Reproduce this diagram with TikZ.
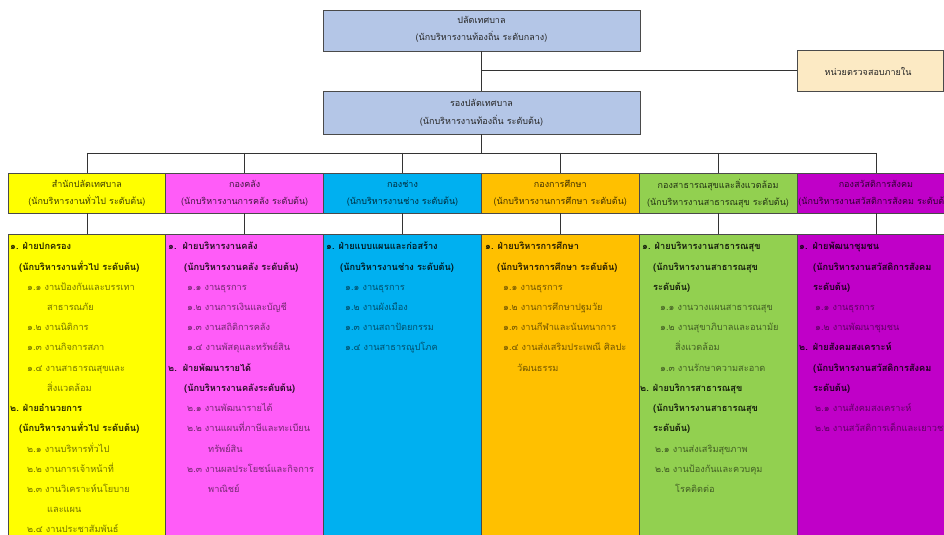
\documentclass[tikz,border=0pt]{standalone}
\usepackage{fontspec}
\newfontfamily\thai[Script=Thai]{Loma}
\definecolor{topbg}{HTML}{B4C6E7}
\definecolor{irbg}{HTML}{FCEAC4}
\definecolor{cyel}{HTML}{FFFF00}
\definecolor{cmag}{HTML}{FF5CF8}
\definecolor{ccya}{HTML}{00B0F0}
\definecolor{cora}{HTML}{FFC000}
\definecolor{cgrn}{HTML}{92D050}
\definecolor{cpur}{HTML}{C000C8}
\definecolor{edge}{HTML}{4A4A4A}
\newcount\tlc
\newcommand\tl[4]{\global\advance\tlc by 1 \node[#1] (t\the\tlc) at ({#2},{250+20.2*#3}) {#4};}
\tikzset{
  box/.style={draw=edge, line width=0.8bp, inner sep=0pt},
  conn/.style={draw=black!80, line width=0.8bp},
  txt/.style={font=\thai\fontsize{9bp}{17.5bp}\selectfont, align=center},
  ln/.style={anchor=base west, inner sep=0pt, font=\thai\fontsize{9.2bp}{10bp}\selectfont},
  hd/.style={ln, text=hc, font=\thai\bfseries\fontsize{9.2bp}{10bp}\selectfont},
  it/.style={ln, text=ic},
}
\begin{document}
\begin{tikzpicture}[x=1bp,y=-1bp]
\useasboundingbox (0,0) rectangle (944,535);
\clip (0,0) rectangle (944,535);
\fill[white] (0,0) rectangle (944,535);
% top boxes
\node[box, fill=topbg, minimum width=317bp, minimum height=41bp] (pt) at (481.5,30.5) {};
\node[txt, text=black!85] (ptt) at (481.5,29.5) {ปลัดเทศบาล\\(นักบริหารงานท้องถิ่น ระดับกลาง)};
\node[box, fill=irbg, minimum width=146bp, minimum height=41bp] (irb) at (870,70.5) {};
\node[txt, text=black!85] (irbt) at (868,71) {หน่วยตรวจสอบภายใน};
\node[box, fill=topbg, minimum width=317bp, minimum height=43bp] (prd) at (481.5,112.5) {};
\node[txt, text=black!85] (prdt) at (481.5,113) {รองปลัดเทศบาล\\(นักบริหารงานท้องถิ่น ระดับต้น)};
% connectors top
\draw[conn] (pt.south) -- (prd.north);
\coordinate (j1) at (pt.south |- irb.west);
\draw[conn] (j1) -- (irb.west);
\coordinate (bus) at (481.5,153);
\draw[conn] (prd.south) -- (bus);
% headers and bodies
\foreach \c/\t/\s [count=\n] in {
  cyel/สำนักปลัดเทศบาล/(นักบริหารงานทั่วไป ระดับต้น),
  cmag/กองคลัง/(นักบริหารงานการคลัง ระดับต้น),
  ccya/กองช่าง/(นักบริหารงานช่าง ระดับต้น),
  cora/กองการศึกษา/(นักบริหารงานการศึกษา ระดับต้น),
  cgrn/กองสาธารณสุขและสิ่งแวดล้อม/(นักบริหารงานสาธารณสุข ระดับต้น),
  cpur/กองสวัสดิการสังคม/(นักบริหารงานสวัสดิการสังคม ระดับต้น)} {
  \pgfmathsetmacro\cx{8+157.8*(\n-1)+78.9}
  \node[box, fill=\c, minimum width=157.8bp, minimum height=40bp] (h\n) at (\cx,193) {};
  \node[txt, text=black!75!\c] (ht\n) at (\cx,193.5) {\t\\\s};
  \node[box, fill=\c, minimum width=157.8bp, minimum height=366bp] (b\n) at (\cx,417) {};
  \draw[conn] (h\n.south) -- (b\n.north);
}
\draw[conn] (h1.north |- bus) -- (h6.north |- bus);
\foreach \n in {1,...,6} { \draw[conn] (h\n.north |- bus) -- (h\n.north); }
% column 1
\begin{scope}
\colorlet{hc}{black!85!cyel}\colorlet{ic}{black!55!cyel}
\tl{hd}{10}{0}{๑. ฝ่ายปกครอง}
\tl{hd}{19}{1}{(นักบริหารงานทั่วไป ระดับต้น)}
\tl{it}{27}{2}{๑.๑ งานป้องกันและบรรเทา}
\tl{it}{47}{3}{สาธารณภัย}
\tl{it}{27}{4}{๑.๒ งานนิติการ}
\tl{it}{27}{5}{๑.๓ งานกิจการสภา}
\tl{it}{27}{6}{๑.๔ งานสาธารณสุขและ}
\tl{it}{47}{7}{สิ่งแวดล้อม}
\tl{hd}{10}{8}{๒. ฝ่ายอำนวยการ}
\tl{hd}{19}{9}{(นักบริหารงานทั่วไป ระดับต้น)}
\tl{it}{27}{10}{๒.๑ งานบริหารทั่วไป}
\tl{it}{27}{11}{๒.๒ งานการเจ้าหน้าที่}
\tl{it}{27}{12}{๒.๓ งานวิเคราะห์นโยบาย}
\tl{it}{47}{13}{และแผน}
\tl{it}{27}{14}{๒.๔ งานประชาสัมพันธ์}
\end{scope}
% column 2
\begin{scope}
\colorlet{hc}{black!85!cmag}\colorlet{ic}{black!55!cmag}
\tl{hd}{168}{0}{๑.\hspace{6bp}ฝ่ายบริหารงานคลัง}
\tl{hd}{184}{1}{(นักบริหารงานคลัง ระดับต้น)}
\tl{it}{187}{2}{๑.๑ งานธุรการ}
\tl{it}{187}{3}{๑.๒ งานการเงินและบัญชี}
\tl{it}{187}{4}{๑.๓ งานสถิติการคลัง}
\tl{it}{187}{5}{๑.๔ งานพัสดุและทรัพย์สิน}
\tl{hd}{168}{6}{๒.\hspace{6bp}ฝ่ายพัฒนารายได้}
\tl{hd}{184}{7}{(นักบริหารงานคลังระดับต้น)}
\tl{it}{187}{8}{๒.๑ งานพัฒนารายได้}
\tl{it}{187}{9}{๒.๒ งานแผนที่ภาษีและทะเบียน}
\tl{it}{208}{10}{ทรัพย์สิน}
\tl{it}{187}{11}{๒.๓ งานผลประโยชน์และกิจการ}
\tl{it}{208}{12}{พาณิชย์}
\end{scope}
% column 3
\begin{scope}
\colorlet{hc}{black!85!ccya}\colorlet{ic}{black!55!ccya}
\tl{hd}{326}{0}{๑. ฝ่ายแบบแผนและก่อสร้าง}
\tl{hd}{340}{1}{(นักบริหารงานช่าง ระดับต้น)}
\tl{it}{345}{2}{๑.๑ งานธุรการ}
\tl{it}{345}{3}{๑.๒ งานผังเมือง}
\tl{it}{345}{4}{๑.๓ งานสถาปัตยกรรม}
\tl{it}{345}{5}{๑.๔ งานสาธารณูปโภค}
\end{scope}
% column 4
\begin{scope}
\colorlet{hc}{black!85!cora}\colorlet{ic}{black!55!cora}
\tl{hd}{485}{0}{๑. ฝ่ายบริหารการศึกษา}
\tl{hd}{497}{1}{(นักบริหารการศึกษา ระดับต้น)}
\tl{it}{503}{2}{๑.๑ งานธุรการ}
\tl{it}{503}{3}{๑.๒ งานการศึกษาปฐมวัย}
\tl{it}{503}{4}{๑.๓ งานกีฬาและนันทนาการ}
\tl{it}{503}{5}{๑.๔ งานส่งเสริมประเพณี ศิลปะ}
\tl{it}{517}{6}{วัฒนธรรม}
\end{scope}
% column 5
\begin{scope}
\colorlet{hc}{black!85!cgrn}\colorlet{ic}{black!55!cgrn}
\tl{hd}{642}{0}{๑. ฝ่ายบริหารงานสาธารณสุข}
\tl{hd}{653}{1}{(นักบริหารงานสาธารณสุข}
\tl{hd}{653}{2}{ระดับต้น)}
\tl{it}{660}{3}{๑.๑ งานวางแผนสาธารณสุข}
\tl{it}{660}{4}{๑.๒ งานสุขาภิบาลและอนามัย}
\tl{it}{675}{5}{สิ่งแวดล้อม}
\tl{it}{660}{6}{๑.๓ งานรักษาความสะอาด}
\tl{hd}{640}{7}{๒. ฝ่ายบริการสาธารณสุข}
\tl{hd}{653}{8}{(นักบริหารงานสาธารณสุข}
\tl{hd}{653}{9}{ระดับต้น)}
\tl{it}{655}{10}{๒.๑ งานส่งเสริมสุขภาพ}
\tl{it}{655}{11}{๒.๒ งานป้องกันและควบคุม}
\tl{it}{675}{12}{โรคติดต่อ}
\end{scope}
% column 6
\begin{scope}
\colorlet{hc}{black!85!cpur}\colorlet{ic}{black!50!cpur}
\tl{hd}{799}{0}{๑.\hspace{5bp}ฝ่ายพัฒนาชุมชน}
\tl{hd}{813}{1}{(นักบริหารงานสวัสดิการสังคม}
\tl{hd}{813}{2}{ระดับต้น)}
\tl{it}{815}{3}{๑.๑ งานธุรการ}
\tl{it}{815}{4}{๑.๒ งานพัฒนาชุมชน}
\tl{hd}{799}{5}{๒.\hspace{5bp}ฝ่ายสังคมสงเคราะห์}
\tl{hd}{813}{6}{(นักบริหารงานสวัสดิการสังคม}
\tl{hd}{813}{7}{ระดับต้น)}
\tl{it}{815}{8}{๒.๑ งานสังคมสงเคราะห์}
\tl{it}{815}{9}{๒.๒ งานสวัสดิการเด็กและเยาวชน}
\end{scope}
\end{tikzpicture}
\end{document}
